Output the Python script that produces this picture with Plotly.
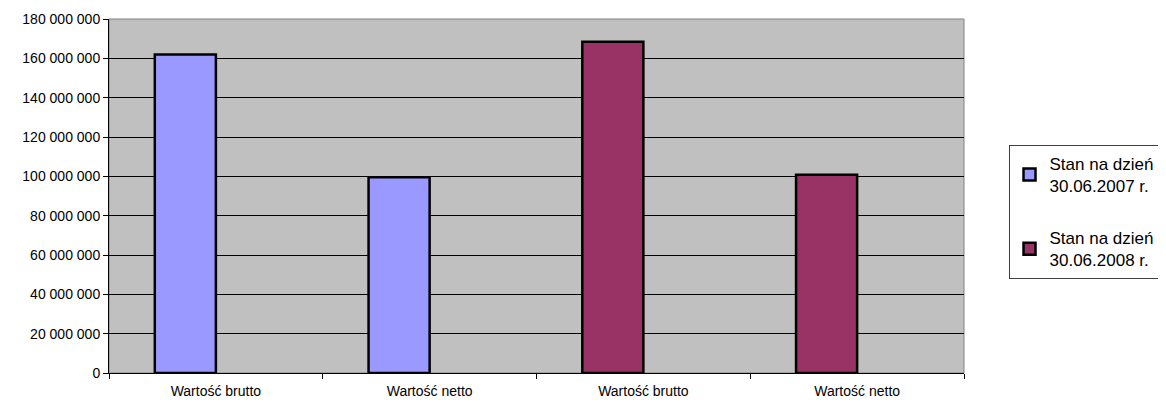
import plotly.graph_objects as go

categories = ["Wartość brutto", "Wartość netto", "Wartość brutto", "Wartość netto"]
series_names = ["Stan na dzień<br>30.06.2007 r.", "Stan na dzień<br>30.06.2008 r."]
x_2007 = [0, 1]
values_2007 = [162_000_000, 99_500_000]
x_2008 = [2, 3]
values_2008 = [168_400_000, 100_800_000]
colors = ["#9999FF", "#993366"]

FONT = "Liberation Sans, Arial, sans-serif"
bw = 0.2857

fig = go.Figure()
for i, (xs, ys) in enumerate([(x_2007, values_2007), (x_2008, values_2008)]):
    fig.add_trace(go.Bar(
        x=xs, y=ys, name=series_names[i], legendgroup=f"g{i}",
        width=bw, offset=-bw,
        marker=dict(color=colors[i], line=dict(color="black", width=2.5)),
    ))

fig.update_layout(
    width=1158, height=395,
    margin=dict(l=101, r=202, t=11, b=30, autoexpand=False),
    paper_bgcolor="white", plot_bgcolor="#C0C0C0",
    barmode="overlay",
    separators=", ",
    font=dict(family=FONT, size=14, color="black"),
    showlegend=True,
    legend=dict(
        xref="container", x=0.864, xanchor="left", y=0.455, yanchor="middle",
        bordercolor="#404040", borderwidth=1, bgcolor="white",
        font=dict(family=FONT, size=17, color="black"),
        traceorder="grouped", tracegroupgap=27,
        entrywidth=200,
    ),
    shapes=[dict(type="rect", xref="paper", yref="paper", x0=0, x1=1, y0=0, y1=1,
                 line=dict(color="#808080", width=1), layer="below")],
)
fig.update_xaxes(
    type="category", range=[-0.5, 3.5], automargin=False,
    tickvals=list(range(len(categories))), ticktext=categories,
    tickson="boundaries", ticks="outside", ticklen=5, tickcolor="black",
    ticklabelstandoff=5,
    showline=True, linecolor="black", linewidth=1, showgrid=False,
    tickfont=dict(size=14),
)
fig.update_yaxes(
    range=[0, 180_000_000], dtick=20_000_000, tickformat=",d", automargin=False,
    ticks="outside", ticklen=5, tickcolor="black",
    showline=True, linecolor="black", linewidth=1,
    showgrid=True, gridcolor="black", gridwidth=1, zeroline=False,
    tickfont=dict(size=14),
)

fig.write_html("out.html")
